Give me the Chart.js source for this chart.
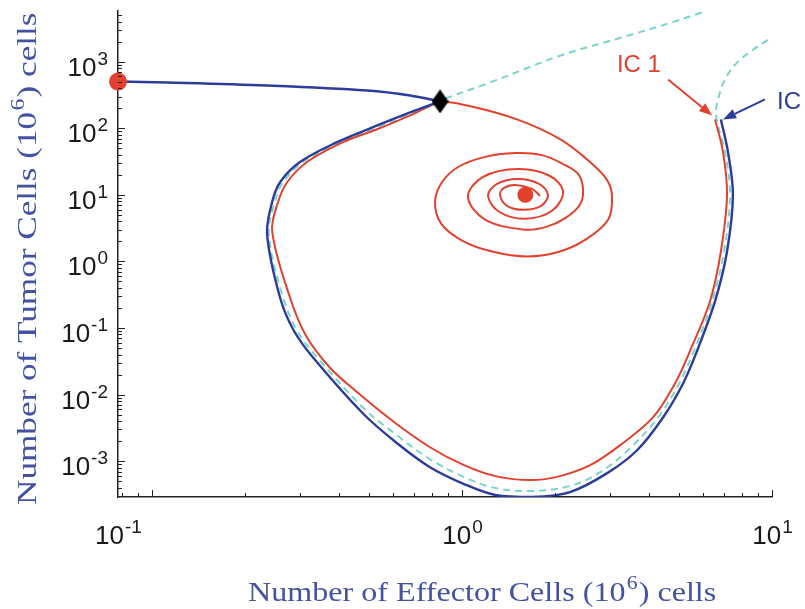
<!DOCTYPE html>
<html>
<head>
<meta charset="utf-8">
<script src="https://cdn.jsdelivr.net/npm/chart.js@4.4.1/dist/chart.umd.min.js"></script>
<style>
  html, body { margin: 0; padding: 0; background: #fff; }
  #wrap { width: 805px; height: 609px; }
</style>
</head>
<body>
<div id="wrap"><canvas id="phase" width="805" height="609"></canvas></div>
<script>
// trajectory starting at IC (blue), runs round the bottom and into the saddle
const icE = [6.84, 7.21, 7.48, 7.16, 6.55, 5.73, 5.16, 4.45, 3.67, 2.94, 2.23, 1.67, 1.28, 1.015, 0.788, 0.617, 0.479, 0.331, 0.287, 0.259, 0.235, 0.244, 0.259, 0.300, 0.395, 0.516, 0.680, 0.849];
const icT = [136, 43.8, 10.0, 1.41, 0.253, 0.0454, 0.0146, 0.00454, 0.00146, 0.000662, 0.000344, 0.00029, 0.000311, 0.000454, 0.000813, 0.00186, 0.0052, 0.0357, 0.0902, 0.280, 2.53, 7.86, 15.6, 31.1, 61.8, 104, 173, 253];

// from the saddle out to the tumor-only equilibrium
const escE = [0.849, 0.680, 0.494, 0.235, 0.112, 0.0776];
const escT = [253, 311, 369, 438, 486, 503];

// trajectory starting at IC 1 (red), passes the saddle and spirals into the coexisting state
const ic1E = [6.55, 6.95, 7.16, 6.84, 6.31, 5.44, 4.86, 4.13, 3.23, 2.59, 2.07, 1.67, 1.28, 1.015, 0.788, 0.594, 0.452, 0.375, 0.314, 0.279, 0.244, 0.255, 0.273, 0.316, 0.413, 0.532, 0.680, 0.849,
  1.038, 1.504, 2.071, 2.588, 2.936, 3.048, 2.96, 2.530, 2.07, 1.621, 1.25, 1.000, 0.856, 0.818, 0.862, 0.971, 1.178, 1.483, 1.81, 2.118, 2.37, 2.457, 2.40, 2.165, 1.88,
  1.597, 1.186, 1.045, 1.169, 1.516, 1.922, 2.118, 1.951, 1.597, 1.316, 1.213, 1.297, 1.516, 1.772, 1.894, 1.798, 1.573, 1.397, 1.326, 1.366, 1.483, 1.682, 1.785];
const ic1T = [136, 43.8, 10.0, 1.41, 0.253, 0.0454, 0.0146, 0.00454, 0.00173, 0.000871, 0.000597, 0.000520, 0.000597, 0.000871, 0.00162, 0.00409, 0.0115, 0.0253, 0.076, 0.280, 2.80, 7.86, 15.6, 31.1, 61.8, 96.6, 156, 244,
  220, 136, 68.5, 31.1, 16.7, 9.34, 4.24, 2.20, 1.41, 1.19, 1.41, 2.06, 3.69, 7.86, 15.6, 26.2, 36.9, 42.4, 39.5, 29.0, 20.6, 11.9, 7.09, 4.54, 3.33,
  3.00, 4.24, 9.34, 18.6, 24.4, 19.2, 11.1, 5.77, 4.38, 5.58, 9.66, 14.6, 17.3, 14.6, 10.0, 6.85, 5.97, 6.85, 10.0, 12.7, 14.1, 12.3, 9.66];

// separatrices (dashed)
const sepE = [9.70, 8.68, 7.71, 7.05, 6.70, 6.60, 7.05, 7.32, 7.00, 6.41, 5.60, 5.01, 4.29, 3.43, 2.79, 2.23, 1.67, 1.28, 1.015, 0.788, 0.617, 0.479, 0.331, 0.294, 0.265, 0.238, 0.249, 0.265, 0.307, 0.404, 0.524, 0.680, 0.849];
const sepT = [2130, 1510, 966, 539, 271, 156, 43.8, 10.0, 1.41, 0.253, 0.0454, 0.0146, 0.00454, 0.00146, 0.000685, 0.000424, 0.000357, 0.000395, 0.000577, 0.00107, 0.00244, 0.0064, 0.0424, 0.0902, 0.280, 2.53, 7.86, 15.6, 31.1, 61.8, 100, 162, 244];
const sep2E = [0.881, 1.23, 2.07, 3.41, 4.69, 5.99];
const sep2T = [280, 486, 1230, 2440, 3820, 5570];

// equilibria
const tumorOnlyE = [0.0776], tumorOnlyT = [503];
const saddleE = [0.849], saddleT = [253];
const coexistE = [1.60], coexistT = [10.0];

// axes
const xMin = 0.0776, xMax = 10;
const yMin = 0.00029, yMax = 5770;
const xTickExp = ['-1', '0', '1'];
const xTickAt = [xMin, 1, 10];   // the reference prints 10^-1 at the left end of the axis
const yTickExp = ['-3', '-2', '-1', '0', '1', '2', '3'];

// labels and arrows
const labelText = ['IC 1', 'IC'];
const labelE = [3.72, 11.35];
const labelT = [871, 244];
const arrowFromE = [4.62, 9.49], arrowFromT = [539, 271];
const arrowToE = [6.41, 6.95], arrowToT = [156, 136];

const RED = '#e2412e', BLUE = '#2b3c9b', CYAN = '#78d4cc', TITLE = '#4352a3';

const pts = (es, ts) => es.map((e, i) => ({ x: e, y: ts[i] }));

// tall diamond for the saddle
const diamond = document.createElement('canvas');
diamond.width = 17; diamond.height = 24;
(function () {
  const c = diamond.getContext('2d');
  c.fillStyle = '#000';
  c.beginPath();
  c.moveTo(8.5, 0); c.lineTo(17, 12); c.lineTo(8.5, 24); c.lineTo(0, 12);
  c.closePath(); c.fill();
})();

function drawPow(ctx, exp, x, baseY, align) {
  ctx.font = '26px "Liberation Sans", Arial, sans-serif';
  const w1 = ctx.measureText('10').width;
  ctx.font = '19px "Liberation Sans", Arial, sans-serif';
  const w2 = ctx.measureText(exp).width;
  const x0 = align === 'right' ? x - w1 - w2 : x - (w1 + w2) / 2;
  ctx.textAlign = 'left';
  ctx.textBaseline = 'alphabetic';
  ctx.font = '26px "Liberation Sans", Arial, sans-serif';
  ctx.fillText('10', x0, baseY);
  ctx.font = '19px "Liberation Sans", Arial, sans-serif';
  ctx.fillText(exp, x0 + w1 + 1, baseY - 11);
}

// serif title with a superscript, squeezed or stretched to the width it has in the reference
function drawTitle(ctx, pre, sup, post, span) {
  const big = '28px "Liberation Serif", "Times New Roman", serif';
  const small = '19px "Liberation Serif", "Times New Roman", serif';
  ctx.font = big; const a = ctx.measureText(pre).width; const c = ctx.measureText(post).width;
  ctx.font = small; const b = ctx.measureText(sup).width;
  const total = a + b + c;
  ctx.save();
  ctx.scale(span / total, 1);
  let x = -total / 2;
  ctx.textAlign = 'left'; ctx.textBaseline = 'alphabetic';
  ctx.font = big; ctx.fillText(pre, x, 0); x += a;
  ctx.font = small; ctx.fillText(sup, x + 1, -12); x += b + 2;
  ctx.font = big; ctx.fillText(post, x, 0);
  ctx.restore();
}

const decor = {
  id: 'decor',
  afterDatasetsDraw(chart) {
    const ctx = chart.ctx, xs = chart.scales.x, ys = chart.scales.y;
    ctx.save();

    // inward tick marks
    ctx.strokeStyle = '#222';
    ctx.lineWidth = 1;
    for (let d = -2; d <= 1; d++) {
      for (let k = 1; k <= 9; k++) {
        const v = k * Math.pow(10, d);
        if (v < xMin || v > xMax) continue;
        const px = Math.round(xs.getPixelForValue(v)) + 0.5;
        const len = k === 1 ? 7 : 4;
        ctx.beginPath(); ctx.moveTo(px, ys.bottom); ctx.lineTo(px, ys.bottom - len); ctx.stroke();
      }
    }
    for (let d = -4; d <= 3; d++) {
      for (let k = 1; k <= 9; k++) {
        const v = k * Math.pow(10, d);
        if (v < yMin || v > yMax) continue;
        const py = Math.round(ys.getPixelForValue(v)) + 0.5;
        const len = k === 1 ? 7 : 4;
        ctx.beginPath(); ctx.moveTo(xs.left, py); ctx.lineTo(xs.left + len, py); ctx.stroke();
      }
    }

    // tick labels
    ctx.fillStyle = '#1a1a1a';
    yTickExp.forEach(e => {
      const py = ys.getPixelForValue(Math.pow(10, +e));
      drawPow(ctx, e, xs.left - 11, py + 14, 'right');
    });
    xTickExp.forEach((e, i) => {
      const px = xs.getPixelForValue(xTickAt[i]);
      drawPow(ctx, e, px, ys.bottom + 47, 'center');
    });

    // axis titles
    ctx.fillStyle = TITLE;
    ctx.save();
    ctx.translate(481, 601);
    drawTitle(ctx, 'Number of Effector Cells (10', '6', ') cells', 466);
    ctx.restore();
    ctx.save();
    ctx.translate(36, 260);
    ctx.rotate(-Math.PI / 2);
    drawTitle(ctx, 'Number of Tumor Cells (10', '6', ') cells', 490);
    ctx.restore();

    // IC labels with arrows
    const cols = [RED, BLUE];
    labelText.forEach((txt, i) => {
      ctx.fillStyle = cols[i];
      ctx.strokeStyle = cols[i];
      ctx.font = '24px "Liberation Sans", Arial, sans-serif';
      ctx.textAlign = 'center';
      ctx.textBaseline = 'middle';
      ctx.fillText(txt, xs.getPixelForValue(labelE[i]), ys.getPixelForValue(labelT[i]));

      const x1 = xs.getPixelForValue(arrowFromE[i]), y1 = ys.getPixelForValue(arrowFromT[i]);
      const x2 = xs.getPixelForValue(arrowToE[i]), y2 = ys.getPixelForValue(arrowToT[i]);
      const ang = Math.atan2(y2 - y1, x2 - x1);
      const hl = 13, hw = 5;
      const bx = x2 - hl * Math.cos(ang), by = y2 - hl * Math.sin(ang);
      ctx.lineWidth = 2;
      ctx.beginPath(); ctx.moveTo(x1, y1); ctx.lineTo(bx, by); ctx.stroke();
      ctx.beginPath();
      ctx.moveTo(x2, y2);
      ctx.lineTo(bx + hw * Math.sin(ang), by - hw * Math.cos(ang));
      ctx.lineTo(bx - hw * Math.sin(ang), by + hw * Math.cos(ang));
      ctx.closePath(); ctx.fill();
    });
    ctx.restore();
  }
};

const curve = (data, color, width, order, dash) => ({
  data, borderColor: color, borderWidth: width, borderDash: dash || [],
  showLine: true, pointRadius: 0, tension: 0.35, order, fill: false
});

new Chart(document.getElementById('phase'), {
  type: 'scatter',
  data: {
    datasets: [
      curve(pts(sepE, sepT), CYAN, 2, 4, [7, 5]),
      curve(pts(sep2E, sep2T), CYAN, 2, 4, [7, 5]),
      curve(pts(ic1E, ic1T), RED, 2, 3),
      curve(pts(icE, icT), BLUE, 2.4, 2),
      curve(pts(escE, escT), BLUE, 2.4, 2),
      { data: pts(tumorOnlyE, tumorOnlyT), pointRadius: 9, pointBackgroundColor: RED, pointBorderWidth: 0, clip: false, order: 0 },
      { data: pts(coexistE, coexistT), pointRadius: 8, pointBackgroundColor: RED, pointBorderWidth: 0, clip: false, order: 0 },
      { data: pts(saddleE, saddleT), pointStyle: diamond, pointRadius: 10, clip: false, order: 0 }
    ]
  },
  options: {
    responsive: false,
    animation: false,
    devicePixelRatio: 1,
    layout: { padding: { left: 118, right: 33, top: 10, bottom: 112 } },
    plugins: { legend: { display: false }, tooltip: { enabled: false } },
    scales: {
      x: {
        type: 'logarithmic', min: xMin, max: xMax,
        ticks: { display: false },
        grid: { display: false, drawTicks: false },
        border: { display: true, color: '#222', width: 1.5 }
      },
      y: {
        type: 'logarithmic', min: yMin, max: yMax,
        ticks: { display: false },
        grid: { display: false, drawTicks: false },
        border: { display: true, color: '#222', width: 1.5 }
      }
    }
  },
  plugins: [decor]
});
</script>
</body>
</html>
